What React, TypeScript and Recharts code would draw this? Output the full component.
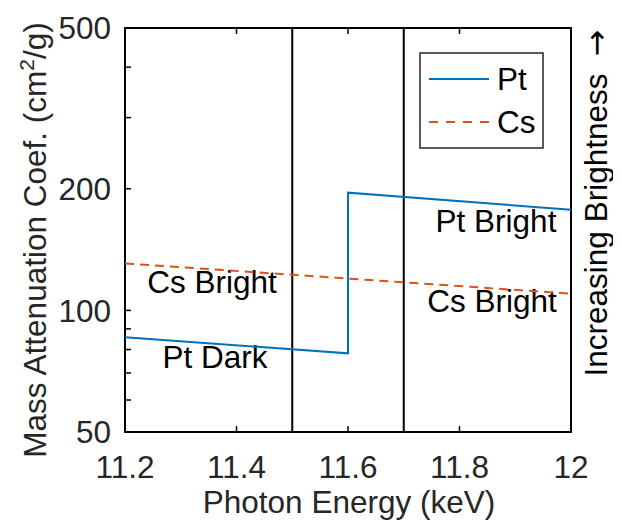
import React from "react";
import {
  ComposedChart,
  Line,
  XAxis,
  YAxis,
  ReferenceLine,
  Customized,
} from "recharts";

// ---------- data ----------
const ptEnergy = [11.2, 11.6, 11.6, 12.0];
const ptValues = [85.8, 78.3, 195.6, 177.5];
const csEnergy = [11.2, 12.0];
const csValues = [130.7, 110.0];
const boundaryEnergies = [11.5, 11.7];
const xTicks = [11.2, 11.4, 11.6, 11.8, 12];
const yTicks = [50, 60, 70, 80, 90, 100, 200, 300, 400, 500];
const yLabeled = [50, 100, 200, 500];
const seriesNames = ["Pt", "Cs"];
const annotations = [
  { text: "Cs Bright", x: 204, y: 285 },
  { text: "Pt Dark", x: 207, y: 360 },
  { text: "Pt Bright", x: 488, y: 224 },
  { text: "Cs Bright", x: 484, y: 304 },
];

const ptData = ptEnergy.map((e, i) => ({ e, v: ptValues[i] }));
const csData = csEnergy.map((e, i) => ({ e, v: csValues[i] }));

// ---------- layout ----------
const W = 613;
const H = 518;
const PL = 117; // plot left
const PT = 20; // plot top
const PR = 563; // plot right
const PB = 424; // plot bottom
const FONT = "'Liberation Sans', Arial, Helvetica, sans-serif";
const FS = 31.5;
const TXT = "#262626";
const PT_COLOR = "#0072BD";
const CS_COLOR = "#D95319";
const TICK = 6;

const XTick = (props: any) => {
  const { x, payload } = props;
  const cx = payload.coordinate ?? x;
  return (
    <g>
      <line x1={cx} x2={cx} y1={PB} y2={PB - TICK} stroke="#000" strokeWidth={1.5} />
      <line x1={cx} x2={cx} y1={PT} y2={PT + TICK} stroke="#000" strokeWidth={1.5} />
      <text
        x={cx}
        y={470}
        textAnchor="middle"
        fontFamily={FONT}
        fontSize={FS}
        fill={TXT}
      >
        {String(payload.value)}
      </text>
    </g>
  );
};

const YTick = (props: any) => {
  const { y, payload } = props;
  const cy = payload.coordinate ?? y;
  const show = yLabeled.includes(payload.value);
  return (
    <g>
      <line x1={PL} x2={PL + TICK} y1={cy} y2={cy} stroke="#000" strokeWidth={1.5} />
      {show && (
        <text
          x={103}
          y={cy}
          dy="0.36em"
          textAnchor="end"
          fontFamily={FONT}
          fontSize={FS}
          fill={TXT}
        >
          {String(payload.value)}
        </text>
      )}
    </g>
  );
};

const Overlay = () => (
  <g fontFamily={FONT}>
    {/* axes box */}
    <rect
      x={PL}
      y={PT}
      width={PR - PL}
      height={PB - PT}
      fill="none"
      stroke="#000"
      strokeWidth={2}
    />
    {/* annotations */}
    {annotations.map((a, i) => (
      <text key={i} x={a.x} y={a.y} textAnchor="middle" fontSize={FS} fill="#000">
        {a.text}
      </text>
    ))}
    {/* legend */}
    <rect x={412} y={45} width={123} height={95} fill="#fff" stroke="#262626" strokeWidth={1.5} />
    <line x1={421} x2={481} y1={71} y2={71} stroke={PT_COLOR} strokeWidth={2} />
    <text x={489} y={71} dy="0.36em" fontSize={FS} fill="#000">
      {seriesNames[0]}
    </text>
    <line
      x1={421}
      x2={481}
      y1={114}
      y2={114}
      stroke={CS_COLOR}
      strokeWidth={2}
      strokeDasharray="9 8"
    />
    <text x={489} y={114} dy="0.36em" fontSize={FS} fill="#000">
      {seriesNames[1]}
    </text>
    {/* axis titles */}
    <text x={341} y={505} textAnchor="middle" fontSize={FS} fill={TXT}>
      Photon Energy (keV)
    </text>
    <text
      transform="translate(38,232) rotate(-90)"
      textAnchor="middle"
      fontSize={FS}
      fill={TXT}
    >
      Mass Attenuation Coef. (cm
      <tspan fontSize={21} dy={-12}>
        2
      </tspan>
      <tspan dy={12}>/g)</tspan>
    </text>
    <text
      transform="translate(599,217) rotate(-90)"
      textAnchor="middle"
      fontSize={FS}
      fill="#000"
    >
      Increasing Brightness
    </text>
    <text
      transform="translate(599,35) rotate(-90)"
      textAnchor="middle"
      fontSize={FS}
      fontFamily="'DejaVu Sans', sans-serif"
      fill="#000"
    >
      →
    </text>
  </g>
);

export default function App() {
  return (
    <ComposedChart
      width={W}
      height={H}
      margin={{ top: PT, right: W - PR, left: 0, bottom: 0 }}
      style={{ background: "#fff" }}
    >
      <XAxis
        dataKey="e"
        type="number"
        domain={[11.2, 12]}
        ticks={xTicks}
        allowDataOverflow
        axisLine={false}
        tickLine={false}
        tick={<XTick />}
        height={H - PB}
        interval={0}
      />
      <YAxis
        type="number"
        scale="log"
        domain={[50, 500]}
        ticks={yTicks}
        allowDataOverflow
        axisLine={false}
        tickLine={false}
        tick={<YTick />}
        width={PL}
        interval={0}
      />
      {boundaryEnergies.map((b) => (
        <ReferenceLine key={b} x={b} stroke="#000" strokeWidth={2} />
      ))}
      <Line
        data={ptData}
        dataKey="v"
        type="linear"
        stroke={PT_COLOR}
        strokeWidth={2}
        dot={false}
        isAnimationActive={false}
      />
      <Line
        data={csData}
        dataKey="v"
        type="linear"
        stroke={CS_COLOR}
        strokeWidth={2}
        strokeDasharray="9 6"
        dot={false}
        isAnimationActive={false}
      />
      <Customized component={Overlay} />
    </ComposedChart>
  );
}
